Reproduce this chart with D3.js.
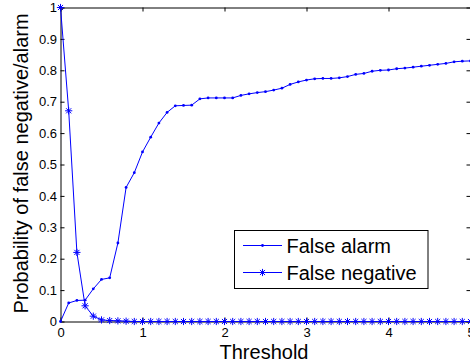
<!DOCTYPE html>
<html>
<head>
<meta charset="utf-8">
<script src="https://cdn.jsdelivr.net/npm/d3@7/dist/d3.min.js"></script>
<style>
  html, body { margin: 0; padding: 0; background: #fff; }
  svg { display: block; }
  text { font-family: "Liberation Sans", Arial, Helvetica, sans-serif; fill: #000; }
</style>
</head>
<body>
<svg id="chart" width="470" height="364"></svg>
<script>
// Threshold values along the x axis
const thresholds = [
  0.0, 0.1, 0.2, 0.3, 0.4, 0.5, 0.6, 0.7, 0.8, 0.9,
  1.0, 1.1, 1.2, 1.3, 1.4, 1.5, 1.6, 1.7, 1.8, 1.9,
  2.0, 2.1, 2.2, 2.3, 2.4, 2.5, 2.6, 2.7, 2.8, 2.9,
  3.0, 3.1, 3.2, 3.3, 3.4, 3.5, 3.6, 3.7, 3.8, 3.9,
  4.0, 4.1, 4.2, 4.3, 4.4, 4.5, 4.6, 4.7, 4.8, 4.9,
  5.0
];

// Probability of a false alarm at each threshold
const falseAlarm = [
  0.000, 0.059, 0.067, 0.068, 0.104, 0.134, 0.139, 0.250, 0.427, 0.474,
  0.540, 0.587, 0.632, 0.666, 0.687, 0.688, 0.689, 0.709, 0.712, 0.712,
  0.712, 0.712, 0.720, 0.725, 0.729, 0.732, 0.737, 0.743, 0.755, 0.763,
  0.769, 0.773, 0.774, 0.774, 0.776, 0.780, 0.787, 0.790, 0.797, 0.800,
  0.801, 0.805, 0.807, 0.810, 0.813, 0.816, 0.819, 0.822, 0.827, 0.829,
  0.830
];

// Probability of a false negative at each threshold
const falseNegative = [
  1.000, 0.671, 0.220, 0.050, 0.017, 0.005, 0.003, 0.002, 0.001, 0.000,
  0.000, 0.000, 0.000, 0.000, 0.000, 0.000, 0.000, 0.000, 0.000, 0.000,
  0.000, 0.000, 0.000, 0.000, 0.000, 0.000, 0.000, 0.000, 0.000, 0.000,
  0.000, 0.000, 0.000, 0.000, 0.000, 0.000, 0.000, 0.000, 0.000, 0.000,
  0.000, 0.000, 0.000, 0.000, 0.000, 0.000, 0.000, 0.000, 0.000, 0.000,
  0.000
];

const xTicks = [0, 1, 2, 3, 4, 5];
const yTicks = [0, 0.1, 0.2, 0.3, 0.4, 0.5, 0.6, 0.7, 0.8, 0.9, 1];
const seriesNames = ["False alarm", "False negative"];

const svg = d3.select("#chart");
const plotLeft = 60.5, plotRight = 470.5, plotTop = 7.5, plotBottom = 321.5;
const color = "#0000ff";

const x = d3.scaleLinear().domain([0, 5]).range([plotLeft, plotRight]);
const y = d3.scaleLinear().domain([0, 1]).range([plotBottom, plotTop]);

const fmtY = d => d === 0 ? "0" : d === 1 ? "1" : d3.format(".1f")(d);

// Axes box with inward ticks
const axisStyle = g => {
  g.selectAll("path.domain").attr("stroke", "#000").attr("stroke-width", 1);
  g.selectAll(".tick line").attr("stroke", "#000").attr("stroke-width", 1);
  g.selectAll(".tick text")
    .attr("font-size", 13)
    .attr("font-family", "'Liberation Sans', Arial, Helvetica, sans-serif")
    .attr("fill", "#000");
};

svg.append("g")
  .attr("transform", `translate(0,${plotBottom})`)
  .call(d3.axisBottom(x).tickValues(xTicks).tickFormat(d3.format("d"))
    .tickSizeInner(-4).tickSizeOuter(0).tickPadding(6.5))
  .call(axisStyle);

svg.append("g")
  .attr("transform", `translate(0,${plotTop})`)
  .call(d3.axisTop(x).tickValues(xTicks).tickFormat("")
    .tickSizeInner(-4).tickSizeOuter(0))
  .call(axisStyle);

svg.append("g")
  .attr("transform", `translate(${plotLeft},0)`)
  .call(d3.axisLeft(y).tickValues(yTicks).tickFormat(fmtY)
    .tickSizeInner(-4).tickSizeOuter(0).tickPadding(3.5))
  .call(axisStyle);

svg.append("g")
  .attr("transform", `translate(${plotRight},0)`)
  .call(d3.axisRight(y).tickValues(yTicks).tickFormat("")
    .tickSizeInner(-4).tickSizeOuter(0))
  .call(axisStyle);

// Series lines
const line = d3.line()
  .x((d, i) => x(thresholds[i]))
  .y(d => y(d));

const plot = svg.append("g");

plot.append("path")
  .datum(falseAlarm)
  .attr("fill", "none")
  .attr("stroke", color)
  .attr("stroke-width", 1)
  .attr("d", line);

plot.append("path")
  .datum(falseNegative)
  .attr("fill", "none")
  .attr("stroke", color)
  .attr("stroke-width", 1)
  .attr("d", line);

// Asterisk marker path centred on the origin
function asterisk(r) {
  const d = r * Math.SQRT1_2;
  return `M${-r},0L${r},0M0,${-r}L0,${r}` +
         `M${-d},${-d}L${d},${d}M${-d},${d}L${d},${-d}`;
}

plot.selectAll("circle.fa")
  .data(falseAlarm)
  .join("circle")
  .attr("class", "fa")
  .attr("cx", (d, i) => x(thresholds[i]))
  .attr("cy", d => y(d))
  .attr("r", 1.4)
  .attr("fill", color);

plot.selectAll("path.fn")
  .data(falseNegative)
  .join("path")
  .attr("class", "fn")
  .attr("transform", (d, i) => `translate(${x(thresholds[i])},${y(d)})`)
  .attr("d", asterisk(3.6))
  .attr("fill", "none")
  .attr("stroke", color)
  .attr("stroke-width", 1);

// Axis titles
svg.append("text")
  .attr("x", 264)
  .attr("y", 358.5)
  .attr("text-anchor", "middle")
  .attr("font-size", 20)
  .text("Threshold");

svg.append("text")
  .attr("transform", `translate(28,${(plotTop + plotBottom) / 2 - 1}) rotate(-90)`)
  .attr("text-anchor", "middle")
  .attr("font-size", 20)
  .text("Probability of false negative/alarm");

// Legend
const legend = svg.append("g");
legend.append("rect")
  .attr("x", 234.5).attr("y", 230.5)
  .attr("width", 193.5).attr("height", 58)
  .attr("fill", "#fff")
  .attr("stroke", "#000")
  .attr("stroke-width", 1);

const rows = [245.5, 272.5];
seriesNames.forEach((name, i) => {
  const yy = rows[i];
  legend.append("line")
    .attr("x1", 243).attr("x2", 282)
    .attr("y1", yy).attr("y2", yy)
    .attr("stroke", color).attr("stroke-width", 1);
  if (i === 0) {
    legend.append("circle")
      .attr("cx", 262.5).attr("cy", yy).attr("r", 1.4).attr("fill", color);
  } else {
    legend.append("path")
      .attr("transform", `translate(262.5,${yy})`)
      .attr("d", asterisk(3.6))
      .attr("fill", "none").attr("stroke", color).attr("stroke-width", 1);
  }
  legend.append("text")
    .attr("x", 286.5)
    .attr("y", yy + 7.5)
    .attr("font-size", 20)
    .text(name);
});
</script>
</body>
</html>
